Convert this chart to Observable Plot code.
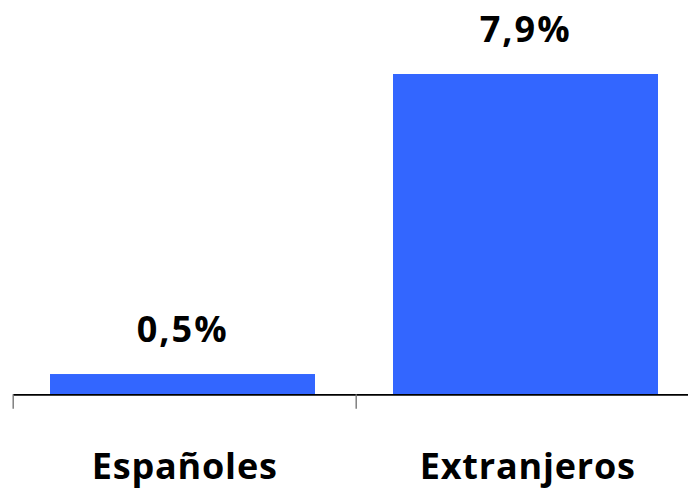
<!DOCTYPE html>
<html>
<head>
<meta charset="utf-8">
<script src="https://cdn.jsdelivr.net/npm/d3@7"></script>
<script src="https://cdn.jsdelivr.net/npm/@observablehq/plot@0.6"></script>
<style>
  html, body { margin: 0; padding: 0; background: #fff; }
  #chart svg { display: block; }
</style>
</head>
<body>
<div id="chart"></div>
<script>
// Share of each group (percent)
const categories = ["Españoles", "Extranjeros"];
const values = [0.5, 7.9];

const rows = categories.map((name, i) => ({name, i, value: values[i]}));
const edges = d3.range(categories.length + 1);
const fmt = v => v.toFixed(1).replace(".", ",") + "%";

const font = "'Open Sans', sans-serif";

const chart = Plot.plot({
  width: 688,
  height: 491,
  marginLeft: 13,
  marginRight: 0,
  marginTop: 0,
  marginBottom: 0,
  x: {type: "linear", domain: [0, categories.length], range: [12.7, 698.7], axis: null},
  y: {domain: [0, 7.9], range: [394.3, 74], axis: null},
  style: {fontFamily: font, background: "#fff"},
  marks: [
    Plot.rectY(rows, {
      x1: "i",
      x2: d => d.i + 1,
      y1: 0,
      y2: "value",
      fill: "#3366FF",
      insetLeft: 37.3,
      insetRight: 40.7
    }),
    Plot.ruleY([0], {stroke: "#000", strokeWidth: 1.7}),
    Plot.ruleX(edges, {x: d => d, y1: 0, y2: 0, insetBottom: -14.5, stroke: "#777", strokeWidth: 1.4}),
    Plot.text(rows, {
      x: d => d.i + 0.5,
      y: "value",
      text: d => fmt(d.value),
      className: "val",
      dx: -2,
      dy: -33,
      lineAnchor: "bottom",
      fontSize: 36,
      fontWeight: 700,
      fill: "#000"
    }),
    Plot.text(rows, {
      x: d => d.i + 0.5,
      y: 0,
      text: "name",
      className: "cat",
      dy: 84,
      lineAnchor: "bottom",
      fontSize: 36,
      fontWeight: 700,
      fill: "#000"
    })
  ]
});

d3.select(chart).selectAll(".val text").style("letter-spacing", "2px");
d3.select(chart).selectAll(".cat text").style("letter-spacing", "0.8px");
document.getElementById("chart").appendChild(chart);
</script>
</body>
</html>
